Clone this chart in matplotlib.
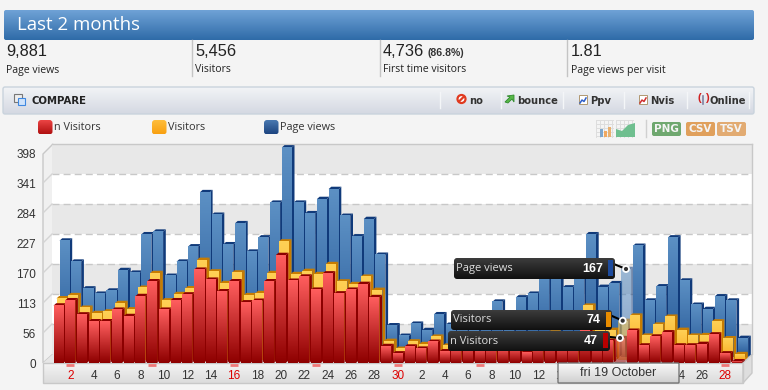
import numpy as np
import matplotlib
matplotlib.use("Agg")
import matplotlib.pyplot as plt
from matplotlib.colors import LinearSegmentedColormap
from matplotlib.patches import FancyBboxPatch, Rectangle, Polygon, Circle

plt.rcParams['font.family'] = ['Liberation Sans', 'DejaVu Sans']

# values, sep 1-30 then oct 1-29
n_visitors = [109, 119, 92, 79, 79, 101, 89, 127, 155, 101, 119, 130, 177, 158, 136,
              155, 115, 118, 155, 205, 156, 164, 139, 170, 132, 139, 150, 125, 32, 18,
              31, 27, 40, 22, 30, 32, 28, 34, 30, 32, 20, 35, 38, 33, 36,
              62, 38, 42, 47, 61, 33, 50, 58, 33, 33, 36, 54, 18, 3]
visitors = [117, 123, 99, 89, 92, 108, 96, 137, 165, 113, 125, 136, 190, 168, 146,
            166, 123, 127, 165, 225, 163, 169, 163, 182, 149, 144, 158, 133, 36, 21,
            35, 30, 44, 27, 38, 42, 36, 44, 40, 42, 30, 48, 52, 46, 50,
            103, 60, 57, 74, 84, 46, 67, 82, 57, 46, 47, 73, 41, 11]
page_views = [221, 181, 130, 120, 126, 165, 160, 233, 238, 154, 181, 210, 313, 270, 214,
              254, 200, 227, 293, 398, 293, 273, 300, 319, 268, 229, 262, 194, 60, 40,
              63, 51, 81, 61, 70, 60, 80, 105, 75, 113, 120, 155, 160, 132, 155,
              233, 133, 140, 167, 211, 107, 134, 227, 145, 99, 91, 115, 107, 36]
# labels under the date box are covered in the original, so 16-22 of oct stay empty
day_labels = [str(d) if d % 2 == 0 else '' for d in range(1, 31)] + \
             [str(d) if d % 2 == 0 and not 15 < d < 23 else '' for d in range(1, 30)]
sunday_idx = [1, 8, 15, 22, 29, 36, 57]
ytick_labels = ['0', '56', '113', '170', '227', '284', '341', '398']
ytick_vals = [0, 57, 114, 171, 228, 285, 342, 399]
stat_numbers = ['9,881', '5,456', '4,736', '1.81']
stat_labels = ['Page views', 'Visitors', 'First time visitors', 'Page views per visit']

BG = '#f4f4f4'
X_STEP = 11.7        # pixels per bar
Y_SCALE = 30 / 57    # pixels per visit
hover = 48

fig = plt.figure(figsize=(7.68, 3.9), dpi=100, facecolor=BG)


def px_axes(zorder):
    a = fig.add_axes([0, 0, 1, 1], zorder=zorder)
    a.set_xlim(0, 768)
    a.set_ylim(390, 0)
    a.axis('off')
    a.patch.set_alpha(0)
    a.set_autoscale_on(False)
    return a


def grad(a, x0, x1, top, bottom, c1, c2, zorder=1, alpha=None, clip=True):
    cm = LinearSegmentedColormap.from_list('g', [c1, c2])
    return a.imshow(np.linspace(0, 1, 64)[:, None], cmap=cm, extent=(x0, x1, bottom, top),
                    aspect='auto', zorder=zorder, alpha=alpha, origin='upper', clip_on=clip)


def round_grad(a, x, y, w, h, c1, c2, edge='none', r=2, zorder=1):
    box = FancyBboxPatch((x + r, y + r), w - 2 * r, h - 2 * r, boxstyle='round,pad=%d,rounding_size=%d' % (r, r),
                         fc='none', ec=edge, lw=1, zorder=zorder + 0.1)
    a.add_patch(box)
    im = grad(a, x, x + w, y, y + h, c1, c2, zorder)
    im.set_clip_path(box)


bg = px_axes(0)

# header
round_grad(bg, 4, 10, 750, 30, '#6fa2d6', '#2f6ba8')
bg.text(17, 25.5, 'Last 2 months', color='white', fontsize=13.4, va='center', family='Open Sans')

# stats row
for x, num, lab in zip([6, 195, 383, 571], stat_numbers, stat_labels):
    bg.text(x, 52, num, fontsize=11.8, color='#222222', va='center')
    bg.text(x, 70, lab, fontsize=7.6, color='#222222', va='center', family='Open Sans')
bg.text(428, 53, '(86.8%)', fontsize=7.6, color='#333333', va='center', weight='bold')
for x in [191.5, 379.5, 566.5]:
    bg.plot([x, x], [40, 76], color='#c4c4c4', lw=1)

# compare bar
round_grad(bg, 3, 87, 751, 27, '#f2f4f6', '#d4d8e2', edge='#c9d3dd')
bg.add_patch(Rectangle((13.5, 93.5), 8, 8, fc='#eeeeee', ec='#777777', lw=0.8, zorder=2))
bg.add_patch(Rectangle((17.5, 97.5), 7.5, 7.5, fc='#cfe3fb', ec='#3f88e0', lw=0.8, zorder=2))
bg.text(31, 100.5, 'COMPARE', fontsize=7.3, weight='bold', color='#222222', va='center', family='DejaVu Sans')
for x in [440, 501, 563, 624, 687, 749]:
    bg.plot([x, x], [92, 108], color='#f4f6f8', lw=1, zorder=2)
for x, t in zip([469, 517.5, 590.5, 650.5, 710], ['no', 'bounce', 'Ppv', 'Nvis', 'Online']):
    bg.text(x, 100.5, t, fontsize=7.2, weight='bold', color='#333333', va='center', family='DejaVu Sans', zorder=3)
bg.add_patch(Circle((461.5, 99), 4, fc='white', ec='#e03a20', lw=1.6, zorder=3))
bg.plot([459, 464], [101.5, 96.5], color='#e03a20', lw=1.6, zorder=3)
bg.add_patch(Polygon([(505, 102), (510, 97), (507, 96), (514, 95), (514, 102), (512, 99), (508, 103)],
                     fc='#58b848', ec='#2f8a2c', lw=0.6, zorder=3))
for x, line in zip([579, 639], ['#3060c8', '#d03030']):
    bg.add_patch(Rectangle((x, 95), 8, 9, fc='white', ec='#b09870', lw=0.7, zorder=3))
    bg.plot([x + 1, x + 3, x + 5, x + 7], [103, 100, 101.5, 98], color=line, lw=1.1, zorder=3)
bg.text(699.5, 98, '(', color='#d02020', fontsize=8, weight='bold', va='center', ha='center', zorder=3)
bg.text(706.5, 98, ')', color='#d02020', fontsize=8, weight='bold', va='center', ha='center', zorder=3)
bg.plot([703, 703], [96, 104], color='#8080a0', lw=1.2, zorder=3)

# legend
for x, c1, c2, t in [(38, '#f04848', '#b01010', 'n Visitors'), (152, '#ffc040', '#f8a010', 'Visitors'),
                     (264, '#4c7cb4', '#1c4480', 'Page views')]:
    round_grad(bg, x, 120, 14.5, 14.5, c1, c2, r=3)
    bg.text(x + 16, 127.5, t, fontsize=7.8, color='#333333', va='center', family='Open Sans')

# export buttons
for x, w, c, t in [(652, 29, '#6fa86f', 'PNG'), (686, 29, '#e0a05c', 'CSV'), (717, 29, '#e2ab72', 'TSV')]:
    bg.add_patch(FancyBboxPatch((x + 2, 124), w - 4, 10, boxstyle='round,pad=2,rounding_size=2', fc=c, ec='none'))
    bg.text(x + w / 2, 129.5, t, fontsize=7.5, weight='bold', color='#f4f4f4', ha='center', va='center',
            family='DejaVu Sans')
bg.plot([645.5, 645.5], [120, 137], color='#d0d0d0', lw=1)

# chart type icons
for x in [596, 616]:
    for k in range(5):
        bg.plot([x + k * 4, x + k * 4], [120, 137], color='#dddddd', lw=0.7)
        bg.plot([x, x + 17], [120 + k * 4, 120 + k * 4], color='#dddddd', lw=0.7)
bg.add_patch(Rectangle((600, 129), 3, 8, fc='#7ea6cc', zorder=2))
bg.add_patch(Rectangle((604, 131), 3, 6, fc='#f0a860', zorder=2))
bg.add_patch(Rectangle((608, 127), 3, 10, fc='#e8b070', zorder=2))
bg.add_patch(Polygon([(616, 137), (616, 129), (622, 131), (628, 125), (635, 123), (635, 137)], fc='#6fbf8f', zorder=2))

# floor, walls and the strip under the chart
bg.add_patch(Polygon([(43, 154), (53, 144), (53, 354), (43, 363)], fc='#f0f0f0', ec='#c8c8c8', lw=1))
bg.add_patch(Polygon([(43, 363), (53, 354), (752, 354), (743, 363)], fc='#e6e6e6', ec='none'))
grad(bg, 43, 743, 363, 383, '#f4f4f4', '#dcdcdc')
bg.add_patch(Rectangle((43, 363), 700, 20, fc='none', ec='#c8c8c8', lw=1, zorder=2))
bg.add_patch(Polygon([(743, 363), (752, 354), (752, 373), (743, 383)], fc='#dedede', ec='#c8c8c8', lw=1))

# chart axes, positioned on the front edge of the floor
ax = fig.add_axes([43 / 768, (390 - 363) / 390, 700 / 768, 219 / 390], zorder=1)
ax.set_xlim((43 - 58.5) / X_STEP, (743 - 58.5) / X_STEP)
ax.set_ylim(0, 219 / Y_SCALE)
ax.patch.set_alpha(0)
ax.set_autoscale_on(False)
for s in ax.spines.values():
    s.set_visible(False)

# back wall bands, shifted by the 3d depth
dx_wall = 9 / X_STEP
dy_wall = 9 / Y_SCALE
wall_l = -1.325 + dx_wall
wall_r = 58.5 + dx_wall
wall_t = 219 / Y_SCALE
for k in range(len(ytick_vals) - 1):
    lo, hi = ytick_vals[k] + dy_wall, ytick_vals[k + 1] + dy_wall
    shade = '#e8e8e8' if k % 2 == 0 else 'white'
    ax.fill([wall_l, wall_r, wall_r, wall_l], [lo, lo, hi, hi], color=shade, lw=0, zorder=0, clip_on=False)
    if k > 0:
        ax.plot([wall_l, wall_r], [lo, lo], color='#c8c8c8', lw=1, dashes=(5, 3), zorder=0.5, clip_on=False)
top_wall = ytick_vals[-1] + dy_wall
ax.fill([wall_l, wall_r, wall_r, wall_l], [top_wall, top_wall, wall_t, wall_t], color='#e8e8e8', lw=0, zorder=0,
        clip_on=False)
ax.plot([wall_l, wall_r], [wall_t, wall_t], color='#c8c8c8', lw=1, zorder=0.5, clip_on=False)
ax.plot([wall_r, wall_r], [dy_wall, wall_t], color='#c8c8c8', lw=1, zorder=0.5, clip_on=False)
for v in ytick_vals[1:-1]:
    ax.plot([-1.325, wall_l], [v, v + dy_wall], color='#d4d4d4', lw=1, zorder=0.5, clip_on=False)


def draw_series(values, depth_px, c_top, c_bot, c_side):
    # one bar: front gradient, then dark side and top cap
    off_x = depth_px / X_STEP
    off_y = depth_px / Y_SCALE
    half = 5 / X_STEP
    sx = 2.7 / X_STEP
    sy = 2.4 / Y_SCALE
    for i, v in enumerate(values):
        a = 0.55 if i == hover else 1
        x0, x1 = i + off_x - half, i + off_x + half
        y0, y1 = off_y, v + off_y
        ax.fill([x1, x1 + sx, x1 + sx, x1], [y0, y0 + sy, y1 + sy, y1], color=c_side, lw=0, zorder=2, alpha=a,
                clip_on=False)
        ax.fill([x0, x0 + sx, x1 + sx, x1], [y1, y1 + sy, y1 + sy, y1], color=c_side, lw=0, zorder=2, alpha=a,
                clip_on=False)
        grad(ax, x0, x1, y1, y0, c_top, c_bot, zorder=2, alpha=a, clip=False)


draw_series(page_views, 6, '#5c90c4', '#235594', '#103a7a')
draw_series(visitors, 3, '#ffd055', '#f8a81c', '#c87c00')
draw_series(n_visitors, 0, '#ff5e5e', '#8e0000', '#8c0000')
ax.set_xlim((43 - 58.5) / X_STEP, (743 - 58.5) / X_STEP)
ax.set_ylim(0, 219 / Y_SCALE)

ax.set_yticks(ytick_vals, ytick_labels)
ax.set_xticks(range(len(day_labels)), day_labels)
ax.tick_params(axis='both', length=0, labelsize=8.5, labelcolor='#333333')
ax.tick_params(axis='y', pad=5)
ax.tick_params(axis='x', pad=5)
for i, t in enumerate(ax.get_xticklabels()):
    if i in sunday_idx:
        t.set_color('#dd0000')
ax.hlines([-4] * len(sunday_idx), [i - 0.35 for i in sunday_idx], [i + 0.35 for i in sunday_idx],
          color='#f07878', lw=2, clip_on=False, zorder=2)

# tooltips and date box on top
top = px_axes(2)
round_grad(top, 558, 363, 121, 20, '#fafafa', '#cfcfcf', edge='#777777', r=1, zorder=5)
top.text(618, 373, 'fri 19 October', fontsize=9, color='#333333', ha='center', va='center', zorder=6)

tips = [(454, 258, 161, 21, 'Page views', page_views[hover], '#1c4a9c', 608, 626, 269),
        (451, 310, 161, 20, 'Visitors', visitors[hover], '#e88c00', 605.5, 622.7, 320.7),
        (448, 331, 162, 20, 'n Visitors', n_visitors[hover], '#b80000', 602.5, 620, 338)]
for x, y, w, h, name, val, col, sx, cx, cy in tips:
    top.plot([x + w, cx], [y + h / 2 - 4, cy], color='black', lw=1.5, zorder=3)
    round_grad(top, x, y, w, h, '#3c3c3c', '#111111', r=3, zorder=4)
    top.add_patch(Rectangle((sx, y + 2), 5, h - 5, fc=col, ec='none', zorder=6))
    top.text(x + 2, y + h / 2, name, fontsize=8, color='#dddddd', va='center', family='Open Sans', zorder=6)
    top.text(sx - 5, y + h / 2, str(val), fontsize=9, color='white', weight='bold', ha='right', va='center', zorder=6)
    top.add_patch(Circle((cx, cy), 3, fc='#333333', ec='white', lw=1.3, zorder=6))

fig.savefig('out.png', dpi=100, facecolor=BG)
